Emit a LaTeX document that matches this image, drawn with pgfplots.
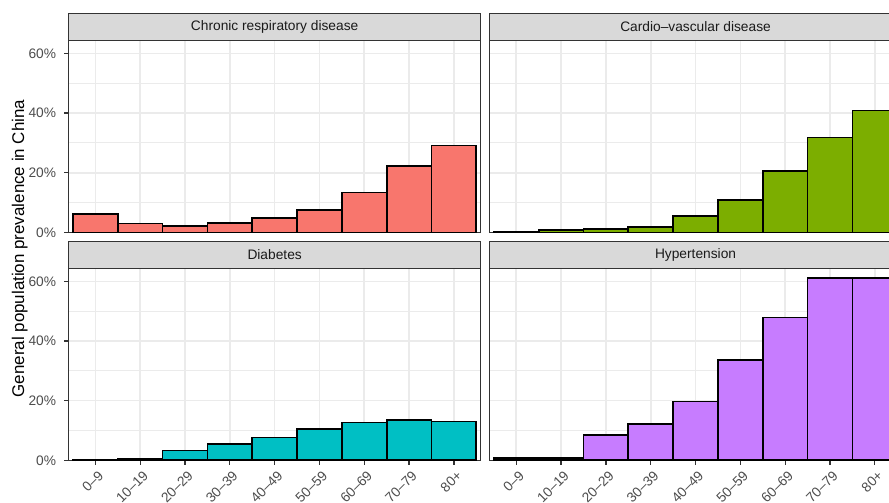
\documentclass[border=0pt]{standalone}
\usepackage{fontspec}
\setmainfont{Liberation Sans}
\usepackage{pgfplots}
\usepackage{pgfplotstable}
\pgfplotsset{compat=1.18}

% theme colours
\definecolor{gg10}{HTML}{1A1A1A}
\definecolor{gg20}{HTML}{333333}
\definecolor{gg30}{HTML}{4D4D4D}
\definecolor{gg85}{HTML}{D9D9D9}
\definecolor{gg92}{HTML}{EBEBEB}
% fill colours
\definecolor{fRed}{HTML}{F8766D}
\definecolor{fGreen}{HTML}{7CAE00}
\definecolor{fTeal}{HTML}{00BFC4}
\definecolor{fPurple}{HTML}{C77CFF}

% prevalence (%) by age group, 1 = 0-9 ... 9 = 80+
\pgfplotstableread{
g p
1 6.1
2 3.0
3 2.2
4 3.1
5 4.8
6 7.5
7 13.4
8 22.2
9 29.1
}\crd
\pgfplotstableread{
g p
1 0.3
2 0.7
3 1.2
4 1.9
5 5.4
6 10.9
7 20.5
8 31.8
9 40.9
}\cvd
\pgfplotstableread{
g p
1 0.05
2 0.35
3 3.3
4 5.4
5 7.6
6 10.5
7 12.7
8 13.4
9 13.0
}\dia
\pgfplotstableread{
g p
1 0.8
2 0.8
3 8.5
4 12.1
5 19.7
6 33.6
7 47.9
8 61.2
9 61.2
}\hyp

\pgfplotsset{
  facet/.style={
    scale only axis, width=412.3bp, height=192.1bp,
    xmin=0.4, xmax=9.6, ymin=0, ymax=64.4,
    xtick={1,...,9}, ytick={0,20,40,60}, minor ytick={10,30,50},
    xtick pos=lower, ytick pos=left,
    grid=both,
    major grid style={gg92, line width=1.6bp},
    minor grid style={gg92, line width=1bp},
    axis line style={gg20, line width=1.3bp},
    tick align=outside, major tick length=4.4bp, minor tick length=0pt,
    tick style={gg20, line width=1.3bp},
    ticklabel style={font=\fontsize{13.8}{15}\selectfont, text=gg30},
    yticklabels={0\%,20\%,40\%,60\%},
    yticklabel style={xshift=-4.5bp},
    xticklabels={0--9,10--19,20--29,30--39,40--49,50--59,60--69,70--79,80+},
    xticklabel style={xshift=2bp, yshift=-3.5bp, rotate=45, anchor=north east, inner sep=1bp},
    ybar, bar width=1, bar shift=0,
  },
  nox/.style={xticklabels={}, xtick style={draw=none}},
  noy/.style={yticklabels={}, ytick style={draw=none}},
  % fills first, outlines on top so shared edges keep their full width
  barfill/.style={fill=#1, draw=none},
  barline/.style={fill=none, draw=black, line width=1.7bp},
}

\newcommand{\strip}[2]{%
  \draw[gg20, fill=gg85, line width=1.3bp] (#1.north west) rectangle ([yshift=26.6bp]#1.north east);
  \node[font=\fontsize{13.8}{16}\selectfont, text=gg10] at ([yshift=13.3bp]#1.north) {#2};
}

\begin{document}
\begin{tikzpicture}

% Chronic respiratory disease
\begin{axis}[facet, nox, name=tl, at={(68.5bp,-40.3bp)}, anchor=north west]
\addplot[barfill=fRed] table[x=g, y=p] {\crd};
\addplot[barline] table[x=g, y=p] {\crd};
\end{axis}
\strip{tl}{Chronic respiratory disease}

% Cardio-vascular disease
\begin{axis}[facet, nox, noy, name=tr, at={(489.4bp,-40.3bp)}, anchor=north west]
\addplot[barfill=fGreen] table[x=g, y=p] {\cvd};
\addplot[barline] table[x=g, y=p] {\cvd};
\end{axis}
\strip{tr}{Cardio--vascular disease}

% Diabetes
\begin{axis}[facet, name=bl, at={(68.5bp,-268.2bp)}, anchor=north west]
\addplot[barfill=fTeal] table[x=g, y=p] {\dia};
\addplot[barline] table[x=g, y=p] {\dia};
\end{axis}
\strip{bl}{Diabetes}

% Hypertension
\begin{axis}[facet, noy, name=br, at={(489.4bp,-268.2bp)}, anchor=north west]
\addplot[barfill=fPurple] table[x=g, y=p] {\hyp};
\addplot[barline] table[x=g, y=p] {\hyp};
\end{axis}
\strip{br}{Hypertension}

\node[rotate=90, anchor=base, font=\fontsize{17}{20}\selectfont, text=black]
  at (24bp,-248.5bp) {General population prevalence in China};

\pgfresetboundingbox
\useasboundingbox (0,0) rectangle (889bp,-503bp);
\end{tikzpicture}
\end{document}
